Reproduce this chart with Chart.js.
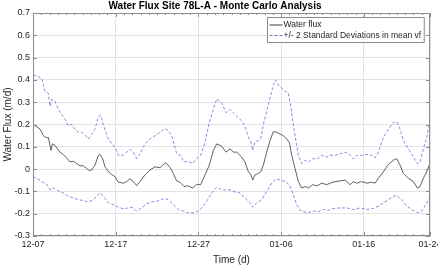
<!DOCTYPE html>
<html>
<head>
<meta charset="utf-8">
<script src="https://cdn.jsdelivr.net/npm/chart.js@4"></script>
<style>
  html, body { margin: 0; padding: 0; background: #fff; overflow: hidden; }
  #wrap { width: 460px; height: 266px; }
</style>
</head>
<body>
<div id="wrap"><canvas id="flux" width="460" height="266"></canvas></div>
<script>
// days since 12-07
const tickDays = [0, 10, 20, 30, 40, 48];
const tickLabels = ["12-07", "12-17", "12-27", "01-06", "01-16", "01-24"];

const meanDays = [0, 0.44, 0.85, 1.25, 1.65, 1.85, 2.06, 2.18, 2.34, 2.66, 3.26, 3.67, 4.07, 4.47, 4.88, 5.28, 5.68, 6.09, 6.49, 6.81, 7.09, 7.5, 7.9, 8.1, 8.42, 8.71, 9.31, 9.92, 10.32, 10.92, 11.33, 11.61,
  11.73, 12.13, 12.54, 12.94, 13.54, 14.15, 14.75, 15.36, 15.96, 16.36, 16.77, 17.37, 17.78, 18.26, 18.78, 19.31, 19.79, 20.27, 20.8, 21.32, 21.81, 22.21, 22.81, 23.34,
  23.82, 24.22, 24.63, 25.23, 25.63, 26.04, 26.36, 26.56, 26.84, 27.25, 27.53, 27.85, 28.26, 28.66, 29.06, 29.46, 29.87, 30.27, 30.67, 31.0, 31.28, 31.68, 32.08, 32.49, 32.89, 33.29, 33.82, 34.3, 34.91, 35.51,
  35.91, 36.52, 37.12, 37.73, 38.33, 38.73, 39.14, 39.74, 40.35, 40.95, 41.35, 41.76, 42.36, 42.97, 43.57, 43.97, 44.38, 44.78, 45.38, 45.99, 46.47, 46.8, 47.2, 47.6, 47.92, 48];
const meanFlux = [0.2, 0.19, 0.18, 0.15, 0.14, 0.143, 0.106, 0.084, 0.113, 0.106, 0.076, 0.065, 0.05, 0.032, 0.035, 0.025, 0.015, 0.015, 0.003, -0.007, -0.004, 0.018, 0.062, 0.066, 0.047, 0.01, -0.019, -0.034, -0.059, -0.063, -0.056, -0.046,
  -0.044, -0.056, -0.074, -0.056, -0.026, -0.004, 0.01, 0.006, 0.028, 0.018, -0.004, -0.053, -0.059, -0.078, -0.075, -0.085, -0.068, -0.07, -0.026, 0.018, 0.084, 0.113, 0.103, 0.076,
  0.091, 0.076, 0.076, 0.054, 0.032, -0.012, -0.026, -0.049, -0.026, -0.019, -0.012, 0.018, 0.076, 0.128, 0.168, 0.165, 0.157, 0.15, 0.135, 0.12, 0.062, 0.003, -0.056, -0.085, -0.078, -0.085, -0.07, -0.075, -0.063, -0.07,
  -0.063, -0.056, -0.053, -0.049, -0.07, -0.056, -0.063, -0.056, -0.063, -0.059, -0.063, -0.041, -0.012, 0.021, 0.04, 0.047, 0.018, -0.019, -0.041, -0.056, -0.085, -0.078, -0.041, -0.012, 0.018, 0.03];

const upperDays = [0, 0.24, 0.64, 1.05, 1.45, 1.85, 2.06, 2.26, 2.66, 3.06, 3.47, 3.87, 4.27, 4.68, 5.08, 5.48, 5.88, 6.29, 6.69, 7.09, 7.5, 7.9, 8.18, 8.5, 8.99, 9.51, 9.92, 10.32, 10.92, 11.33,
  11.73, 12.13, 12.54, 12.94, 13.54, 14.15, 14.75, 15.36, 15.96, 16.36, 16.77, 17.37, 17.78, 18.26, 18.78, 19.31, 19.79, 20.27, 20.8, 21.32, 21.81, 22.21, 22.81, 23.34,
  23.82, 24.22, 24.63, 25.23, 25.63, 26.04, 26.36, 26.56, 26.84, 27.25, 27.53, 27.85, 28.26, 28.66, 29.06, 29.34, 29.67, 30.07, 30.47, 30.87, 31.16, 31.56, 32.08, 32.49, 32.89, 33.29, 33.82, 34.3, 34.91, 35.51,
  35.91, 36.52, 37.12, 37.73, 38.33, 38.73, 39.14, 39.74, 40.35, 40.95, 41.35, 41.76, 42.36, 42.97, 43.57, 43.97, 44.38, 44.78, 45.38, 45.99, 46.47, 46.8, 47.2, 47.6, 47.92, 48];
const upperFlux = [0.422, 0.42, 0.415, 0.407, 0.349, 0.341, 0.282, 0.312, 0.304, 0.268, 0.246, 0.224, 0.194, 0.2, 0.179, 0.165, 0.165, 0.153, 0.135, 0.157, 0.179, 0.235, 0.241, 0.2, 0.143, 0.113, 0.099, 0.062, 0.062, 0.076,
  0.088, 0.076, 0.047, 0.069, 0.113, 0.135, 0.15, 0.165, 0.182, 0.172, 0.15, 0.069, 0.062, 0.032, 0.035, 0.025, 0.047, 0.062, 0.121, 0.209, 0.268, 0.315, 0.297, 0.253,
  0.268, 0.253, 0.238, 0.216, 0.194, 0.143, 0.121, 0.084, 0.121, 0.128, 0.135, 0.2, 0.26, 0.319, 0.378, 0.4, 0.378, 0.363, 0.349, 0.341, 0.282, 0.179, 0.062, 0.025, 0.04, 0.032, 0.047, 0.044, 0.062, 0.054,
  0.062, 0.062, 0.069, 0.076, 0.065, 0.045, 0.062, 0.062, 0.065, 0.062, 0.05, 0.076, 0.143, 0.179, 0.209, 0.212, 0.179, 0.128, 0.091, 0.054, 0.025, 0.032, 0.091, 0.143, 0.2, 0.21];

const lowerDays = [0, 0.44, 1.05, 1.65, 2.06, 2.46, 3.06, 3.67, 4.27, 4.88, 5.48, 6.09, 6.69, 7.29, 7.9, 8.18, 8.5, 9.11, 9.71, 10.32, 10.92, 11.53,
  11.73, 12.13, 12.54, 13.14, 13.74, 14.35, 14.95, 15.56, 15.96, 16.36, 16.97, 17.57, 18.18, 18.78, 19.39, 19.99, 20.4, 21.0, 21.6, 22.21, 22.81, 23.42,
  23.82, 24.43, 25.03, 25.63, 26.24, 26.56, 27.05, 27.65, 28.26, 28.86, 29.38, 29.87, 30.47, 31.0, 31.48, 31.88, 32.29, 32.69, 33.29, 33.9, 34.5, 35.11, 35.71,
  35.91, 36.52, 37.12, 37.93, 38.73, 39.54, 40.35, 41.15, 41.76, 42.36, 42.97, 43.57, 43.97, 44.58, 45.18, 45.99, 46.47, 47.0, 47.52, 47.92, 48];
const lowerFlux = [-0.034, -0.041, -0.056, -0.068, -0.093, -0.085, -0.097, -0.107, -0.122, -0.129, -0.137, -0.141, -0.147, -0.137, -0.115, -0.107, -0.122, -0.151, -0.159, -0.171, -0.178, -0.174,
  -0.171, -0.174, -0.188, -0.174, -0.156, -0.147, -0.144, -0.137, -0.132, -0.137, -0.159, -0.181, -0.188, -0.196, -0.196, -0.188, -0.174, -0.144, -0.107, -0.081, -0.093, -0.093,
  -0.093, -0.103, -0.107, -0.129, -0.151, -0.171, -0.151, -0.137, -0.1, -0.063, -0.044, -0.049, -0.056, -0.07, -0.115, -0.159, -0.185, -0.191, -0.196, -0.188, -0.191, -0.181, -0.185,
  -0.181, -0.176, -0.174, -0.174, -0.181, -0.174, -0.181, -0.176, -0.166, -0.151, -0.137, -0.122, -0.118, -0.137, -0.166, -0.185, -0.196, -0.188, -0.159, -0.129, -0.12];

const pts = (xs, ys) => xs.map((d, i) => ({ x: d, y: ys[i] }));
const FONT = "'Liberation Sans', Arial, Helvetica, sans-serif";
const AXIS = '#8c8c8c';
const BLUE = '#6c6cd8';

// MATLAB-like box with inward ticks
const matlabBox = {
  id: 'matlabBox',
  afterDatasetsDraw(chart) {
    const { ctx, chartArea: a, scales: { x, y } } = chart;
    ctx.save();
    ctx.strokeStyle = AXIS;
    ctx.lineWidth = 1;
    ctx.beginPath();
    for (let d = 0; d <= 48; d++) {
      const px = Math.round(x.getPixelForValue(d)) + 0.5;
      const len = tickDays.includes(d) ? 4 : 2;
      ctx.moveTo(px, a.bottom); ctx.lineTo(px, a.bottom - len);
      ctx.moveTo(px, a.top); ctx.lineTo(px, a.top + len);
    }
    y.ticks.forEach(t => {
      const py = Math.round(y.getPixelForValue(t.value)) + 0.5;
      ctx.moveTo(a.left, py); ctx.lineTo(a.left + 4, py);
      ctx.moveTo(a.right, py); ctx.lineTo(a.right - 4, py);
    });
    ctx.stroke();
    ctx.strokeRect(Math.round(a.left) + 0.5, Math.round(a.top) + 0.5,
      Math.round(a.right - a.left) - 1, Math.round(a.bottom - a.top) - 1);
    ctx.restore();
  }
};

// legend box inside the axes, top right
const boxLegend = {
  id: 'boxLegend',
  afterDraw(chart) {
    const { ctx, chartArea: a } = chart;
    const items = chart.data.datasets.slice(0, 2);
    ctx.save();
    ctx.font = '8.5px ' + FONT;
    const tw = Math.max(...items.map(d => ctx.measureText(d.label).width));
    const w = 16 + tw + 3, h = 25;
    const bx = Math.round(a.right - 6 - w) + 0.5, by = Math.round(a.top + 4) + 0.5;
    ctx.fillStyle = '#fff';
    ctx.fillRect(bx, by, w, h);
    ctx.strokeStyle = AXIS;
    ctx.lineWidth = 1;
    ctx.strokeRect(bx, by, w, h);
    items.forEach((d, i) => {
      const ry = by + 7.5 + i * 10.5;
      ctx.strokeStyle = d.borderColor;
      ctx.lineWidth = 1;
      ctx.setLineDash(d.borderDash || []);
      ctx.beginPath();
      ctx.moveTo(bx + 2, ry); ctx.lineTo(bx + 15, ry);
      ctx.stroke();
      ctx.setLineDash([]);
      ctx.fillStyle = '#262626';
      ctx.textBaseline = 'middle';
      ctx.fillText(d.label, bx + 16, ry);
    });
    ctx.restore();
  }
};

new Chart(document.getElementById('flux'), {
  type: 'line',
  data: {
    datasets: [
      { label: 'Water flux', data: pts(meanDays, meanFlux), borderColor: '#3a3a3a', borderWidth: 0.8 },
      { label: '+/- 2 Standard Deviations in mean vf', data: pts(upperDays, upperFlux), borderColor: BLUE, borderWidth: 0.8, borderDash: [3, 2] },
      { label: '+/- 2 Standard Deviations in mean vf (lower)', data: pts(lowerDays, lowerFlux), borderColor: BLUE, borderWidth: 0.8, borderDash: [3, 2] }
    ]
  },
  options: {
    responsive: false,
    animation: false,
    devicePixelRatio: 1,
    layout: { padding: { right: 30 } },
    elements: { point: { radius: 0 }, line: { tension: 0 } },
    plugins: {
      legend: { display: false },
      tooltip: { enabled: false },
      title: {
        display: true,
        text: 'Water Flux Site 78L-A - Monte Carlo Analysis',
        color: '#000',
        font: { family: FONT, size: 10, weight: 'bold' },
        padding: { top: 0, bottom: 1 }
      }
    },
    scales: {
      x: {
        type: 'linear', min: 0, max: 48,
        afterBuildTicks: s => { s.ticks = tickDays.map(v => ({ value: v })); },
        afterFit: s => { s.height = 30; },
        ticks: {
          autoSkip: false, maxRotation: 0, padding: 3, color: '#262626',
          font: { family: FONT, size: 9 },
          callback: v => tickLabels[tickDays.indexOf(v)]
        },
        grid: { color: '#e3e3e3', drawTicks: false },
        border: { display: false },
        title: { display: true, text: 'Time (d)', color: '#262626', font: { family: FONT, size: 10 }, padding: { top: 0, bottom: 0 } }
      },
      y: {
        min: -0.3, max: 0.7,
        afterFit: s => { s.width = 33; },
        ticks: {
          stepSize: 0.1, padding: 3, color: '#262626',
          font: { family: FONT, size: 9 },
          callback: v => String(Math.round(v * 10) / 10)
        },
        grid: { color: '#e3e3e3', drawTicks: false },
        border: { display: false },
        title: { display: true, text: 'Water Flux (m/d)', color: '#262626', font: { family: FONT, size: 10 }, padding: { top: 2.5, bottom: 0 } }
      }
    }
  },
  plugins: [matlabBox, boxLegend]
});
</script>
</body>
</html>
